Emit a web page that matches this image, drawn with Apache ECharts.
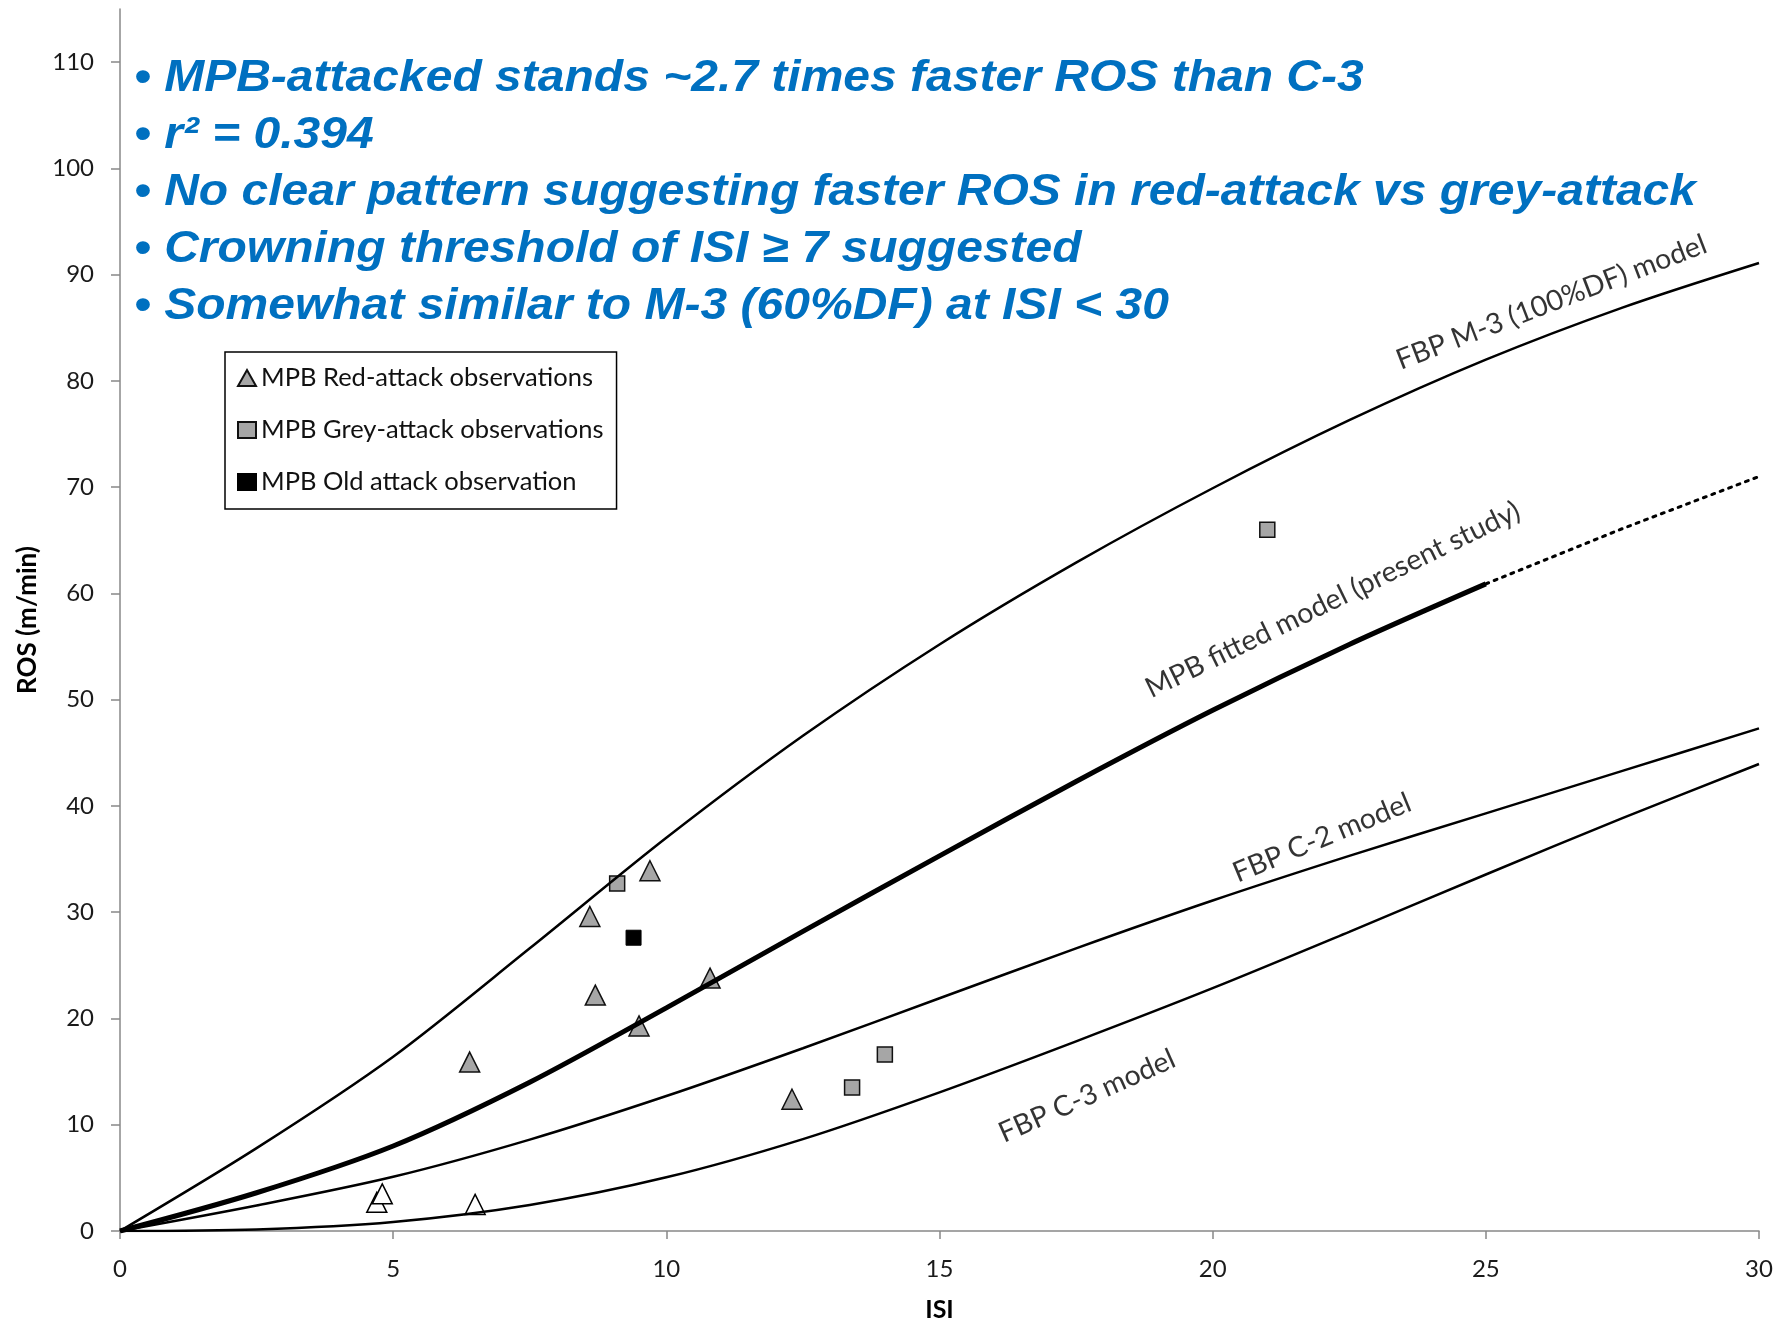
<!DOCTYPE html>
<html>
<head>
<meta charset="utf-8">
<title>MPB ROS vs ISI</title>
<script src="https://cdn.jsdelivr.net/npm/echarts@6/dist/echarts.min.js"></script>
<style>
  html, body { margin: 0; padding: 0; background: #fff; }
  #chart { width: 1788px; height: 1327px; }
</style>
</head>
<body>
<div id="chart"></div>
<script>
const isiSteps = [0, 2.5, 5, 7.5, 10, 12.5, 15, 17.5, 20, 22.5, 25, 27.5, 30]
const m3Ros = [0, 7.8, 16.4, 26.6, 37.0, 46.6, 55.2, 62.9, 69.9, 76.3, 82.0, 86.9, 91.1]
const c2Ros = [0, 2.4, 5.1, 8.6, 12.7, 17.2, 21.9, 26.6, 31.1, 35.3, 39.3, 43.3, 47.3]
const c3Ros = [0, 0.15, 0.85, 2.45, 5.05, 8.65, 13.05, 17.85, 22.85, 28.15, 33.55, 38.85, 43.95]

// fitted model: solid up to ISI 25, dotted beyond
const fittedIsi = [0, 2.5, 5, 7.5, 10, 12.5, 15, 17.5, 20, 22.5, 25]
const fittedRos = [0, 3.6, 8.0, 14.0, 21.0, 28.2, 35.3, 42.3, 49.0, 55.2, 60.9]
const fittedExtIsi = [25, 27.5, 30]
const fittedExtRos = [60.9, 66.1, 71]

// observations [ISI, ROS]
const redAttack = [[6.4, 15.9], [8.6, 29.6], [8.7, 22.2], [9.5, 19.3], [9.7, 33.9], [10.8, 23.8], [12.3, 12.4]]
const greyAttack = [[9.1, 32.7], [13.4, 13.5], [14.0, 16.6], [21.0, 66.0]]
const oldAttack = [[9.4, 27.6]]
const openTriangles = [[4.7, 2.7], [4.8, 3.5], [6.5, 2.5]]

const curveLabels = [
  { text: 'FBP M-3 (100%DF) model', isi: 26.2, ros: 87.4, angle: 21 },
  { text: 'MPB fitted model (present study)', isi: 22.2, ros: 59.4, angle: 26 },
  { text: 'FBP C-2 model', isi: 22.0, ros: 37.0, angle: 22.5 },
  { text: 'FBP C-3 model', isi: 17.7, ros: 12.7, angle: 24 }
]

const bullets = [
  '• MPB-attacked stands ~2.7 times faster ROS than C-3',
  '• r² = 0.394',
  '• No clear pattern suggesting faster ROS in red-attack vs grey-attack',
  '• Crowning threshold of ISI ≥ 7 suggested',
  '• Somewhat similar to M-3 (60%DF) at ISI < 30'
]

const yTicks = [0, 10, 20, 30, 40, 50, 60, 70, 80, 90, 100, 110]

const pairs = (xs, ys) => xs.map((x, i) => [x, ys[i]])

// the bullet text is a condensed bold italic; squeeze Liberation Sans to the same width
const bulletFont = 'italic bold 45px "Liberation Sans"'
const ctx = document.createElement('canvas').getContext('2d')
ctx.font = bulletFont
const squeeze = 1562 / ctx.measureText(bullets[2]).width

const axisGrey = '#888888'
const obsGrey = '#a6a6a6'

const curve = (data, width) => ({
  type: 'line',
  data,
  showSymbol: false,
  smooth: 0.3,
  silent: true,
  lineStyle: { color: '#000', width }
})

const chart = echarts.init(document.getElementById('chart'), null, { renderer: 'canvas' })

chart.setOption({
  backgroundColor: '#fff',
  animation: false,
  grid: { left: 120, right: 29, top: 9, bottom: 92 },
  xAxis: {
    type: 'value',
    min: 0,
    max: 30,
    interval: 5,
    name: 'ISI',
    nameLocation: 'middle',
    nameGap: 66,
    nameTextStyle: { fontFamily: 'Lato', fontWeight: 'bold', fontSize: 25, color: '#000' },
    axisLine: { lineStyle: { color: axisGrey, width: 1.5 } },
    axisTick: { length: 8, lineStyle: { color: axisGrey, width: 1.5 } },
    axisLabel: { fontFamily: 'Lato', fontSize: 24, color: '#1a1a1a', margin: 26 },
    splitLine: { show: false }
  },
  yAxis: {
    type: 'value',
    min: 0,
    max: 115,
    interval: 10,
    name: 'ROS (m/min)',
    nameLocation: 'middle',
    nameGap: 79,
    nameTextStyle: { fontFamily: 'Lato', fontWeight: 'bold', fontSize: 26, color: '#000' },
    axisLine: { show: true, lineStyle: { color: axisGrey, width: 1.5 } },
    axisTick: { show: true, length: 9, customValues: yTicks, lineStyle: { color: axisGrey, width: 1.5 } },
    axisLabel: { customValues: yTicks, fontFamily: 'Lato', fontSize: 24, color: '#1a1a1a', margin: 26 },
    splitLine: { show: false }
  },
  legend: {
    data: ['MPB Red-attack observations', 'MPB Grey-attack observations', 'MPB Old attack observation'],
    orient: 'vertical',
    left: 225,
    top: 352,
    padding: [13, 13, 14, 12],
    itemGap: 26,
    itemWidth: 18,
    itemHeight: 16,
    backgroundColor: '#fff',
    borderColor: '#000',
    borderWidth: 1.5,
    selectedMode: false,
    textStyle: { fontFamily: 'Lato', fontSize: 25.5, color: '#111' }
  },
  graphic: bullets.map((t, i) => ({
    type: 'text',
    x: 134,
    y: 79 + i * 57,
    scaleX: squeeze,
    silent: true,
    style: {
      text: t,
      font: bulletFont,
      fill: '#0070c0',
      verticalAlign: 'middle'
    }
  })),
  series: [
    curve(pairs(isiSteps, m3Ros), 2.5),
    curve(pairs(isiSteps, c2Ros), 2.5),
    curve(pairs(isiSteps, c3Ros), 2.5),
    curve(pairs(fittedIsi, fittedRos), 5),
    {
      type: 'line',
      data: pairs(fittedExtIsi, fittedExtRos),
      showSymbol: false,
      silent: true,
      lineStyle: { color: '#000', width: 3, type: [3, 6], cap: 'round' }
    },
    {
      type: 'scatter',
      data: curveLabels.map(c => ({
        value: [c.isi, c.ros],
        label: { formatter: c.text, rotate: c.angle }
      })),
      symbolSize: 0,
      silent: true,
      label: {
        show: true,
        position: 'inside',
        fontFamily: 'Lato',
        fontSize: 28.5,
        color: '#000'
      }
    },
    {
      name: 'open triangles',
      type: 'scatter',
      data: openTriangles,
      symbol: 'triangle',
      symbolSize: 20,
      itemStyle: { color: '#fff', borderColor: '#000', borderWidth: 1.5, opacity: 1 }
    },
    {
      name: 'MPB Red-attack observations',
      type: 'scatter',
      data: redAttack,
      symbol: 'triangle',
      symbolSize: 20,
      itemStyle: { color: obsGrey, borderColor: '#111', borderWidth: 1.5, opacity: 1 }
    },
    {
      name: 'MPB Grey-attack observations',
      type: 'scatter',
      data: greyAttack,
      symbol: 'rect',
      symbolSize: 15,
      itemStyle: { color: obsGrey, borderColor: '#111', borderWidth: 1.5, opacity: 1 }
    },
    {
      name: 'MPB Old attack observation',
      type: 'scatter',
      data: oldAttack,
      symbol: 'rect',
      symbolSize: 15,
      itemStyle: { color: '#000', borderColor: '#000', borderWidth: 1, opacity: 1 }
    }
  ]
})
</script>
</body>
</html>
